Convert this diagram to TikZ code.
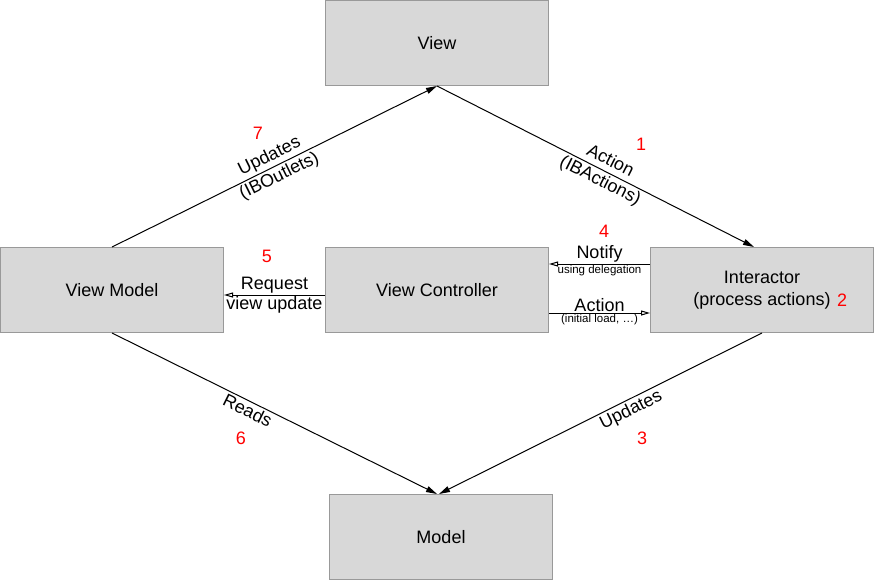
\documentclass[tikz,border=0pt]{standalone}
\usepackage{fontspec}
\setmainfont{Liberation Sans}
\usepackage{xcolor}
\usetikzlibrary{arrows.meta}
\definecolor{boxfill}{RGB}{216,216,216}
\definecolor{boxline}{RGB}{153,153,153}
\definecolor{order}{RGB}{255,0,0}
\newcommand{\smalltext}{\fontsize{11.5}{13}\selectfont}
\tikzstyle{box}=[draw=boxline,fill=boxfill,line width=1pt,minimum width=223pt,minimum height=85pt,align=center]
\tikzset{filledarrow/.style={-{Triangle[length=11pt,width=6pt]},line width=1pt}}
\tikzset{openarrow/.style={-{Triangle[open,length=9pt,width=5pt]},line width=1pt}}
\tikzstyle{num}=[text=order]

\begin{document}
\begin{tikzpicture}[x=1pt,y=-1pt,font=\fontsize{18}{22}\selectfont]
  \useasboundingbox (0,0) rectangle (875,581);
  \draw (437,43) node[box] (View) {View};
  \draw (112,290) node[box] (VModel) {View Model};
  \draw (437,290) node[box] (VCtrl) {View Controller};
  \draw (762,290) node[box] (Inter) {Interactor\\(process actions)};
  \draw (441,537) node[box] (Model) {Model};

  \draw[filledarrow] (VModel.north) -- node[pos=.5,sloped,align=center]{Updates\\(IBOutlets)} (View.south);
  \draw[filledarrow] (View.south) -- node[pos=.53,sloped,align=center]{Action\\(IBActions)} ([xshift=-8pt]Inter.north);

  \draw[openarrow] ([yshift=26pt]Inter.west) -- node[above,inner sep=1pt]{Notify} node[below,inner sep=1pt]{\smalltext using delegation} ([yshift=26pt]VCtrl.east);
  \draw[openarrow] ([yshift=-23pt]VCtrl.east) -- node[above,inner sep=1pt]{Action} node[below,inner sep=1pt]{\smalltext (initial load, \dots)} ([yshift=-23pt]Inter.west);
  \draw[openarrow] ([yshift=-5pt]VCtrl.west) -- node[above,inner sep=1pt]{Request} node[below,inner sep=1pt]{view update} ([yshift=-5pt]VModel.east);

  \draw[filledarrow] (VModel.south) -- node[pos=.43,sloped,below,inner sep=2pt]{Reads} ([xshift=-4pt]Model.north);
  \draw[filledarrow] (Inter.south) -- node[pos=.42,sloped,below,inner sep=2pt]{Updates} ([xshift=-2pt]Model.north);

  %% Order of the steps
  \draw (641,144) node[num] (N1) {1};
  \draw (842,300) node[num] (N2) {2};
  \draw (642,438) node[num] (N3) {3};
  \draw (604,231) node[num] (N4) {4};
  \draw (267,256) node[num] (N5) {5};
  \draw (241,438) node[num] (N6) {6};
  \draw (258,133) node[num] (N7) {7};
\end{tikzpicture}
\end{document}
